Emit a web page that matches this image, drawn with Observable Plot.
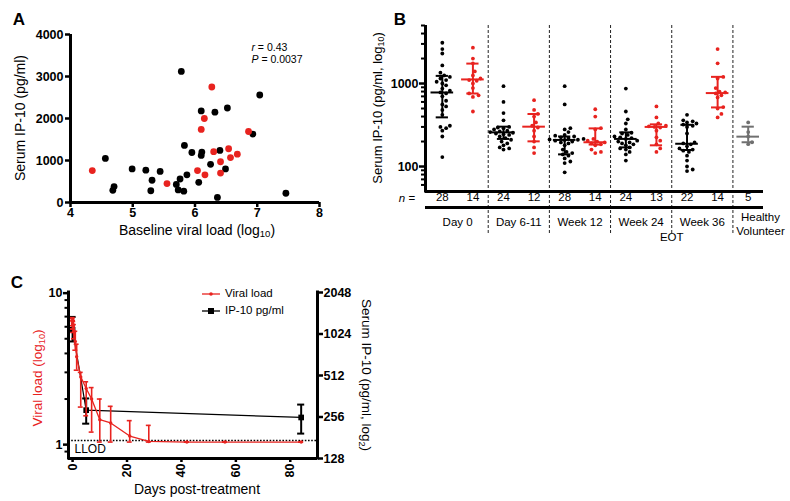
<!DOCTYPE html>
<html><head><meta charset="utf-8">
<script src="https://cdn.jsdelivr.net/npm/d3@7"></script>
<script src="https://cdn.jsdelivr.net/npm/@observablehq/plot@0.6"></script>
<style>
body{margin:0;background:#fff;font-family:"Liberation Sans",Arial,sans-serif;}
#root{position:relative;width:790px;height:501px;overflow:hidden;background:#fff;}
#root svg{position:absolute;}
sub{font-size:68%;vertical-align:-0.25em;line-height:0;}
</style></head><body><div id="root"></div>
<script>
// ---------- Panel A data ----------
const aBlackX = [4.56,4.70,4.68,4.99,5.21,5.31,5.29,5.44,5.70,5.76,5.73,5.82,5.87,5.83,5.78,5.95,6.06,6.10,6.11,6.10,6.32,6.52,6.25,6.40,6.49,6.36,6.93,7.04,7.46];
const aBlackY = [1050,380,290,800,770,530,280,740,430,560,300,270,660,1360,3120,1190,480,1120,1200,2180,2150,2250,910,1240,800,120,1630,2560,220];
const aRedX = [4.35,5.55,6.04,6.16,6.10,6.15,6.27,6.30,6.41,6.41,6.54,6.57,6.68,6.86];
const aRedY = [760,450,760,660,1740,2000,2750,1210,970,700,1280,1070,1150,1690];
const aXTicks = [4,5,6,7,8];
const aYTicks = [0,1000,2000,3000,4000];

// ---------- Panel B data ----------
const bD0A  = [3100,2600,2300,1650,1350,1250,1200,1150,1100,1050,1000,950,870,820,780,760,700,620,560,530,480,420,310,300,290,270,230,130];
const bD0B  = [2700,2000,1750,1400,1250,1150,1100,1080,1000,880,760,720,690,460];
const bD6A  = [930,600,440,360,300,295,290,280,270,265,260,255,250,245,240,230,220,210,200,190,180,170,165,160];
const bD6B  = [630,480,430,400,340,310,295,270,230,200,170,145];
const bW12A = [930,560,290,280,260,240,235,230,225,220,215,212,210,208,205,200,195,190,180,160,150,145,140,135,125,115,110,85];
const bW12B = [490,400,290,280,215,205,200,195,190,185,180,160,150,145];
const bW24A = [870,460,370,330,280,255,250,240,230,225,220,215,205,200,195,190,185,180,170,165,160,150,140,118];
const bW24B = [530,390,330,310,305,300,295,270,225,205,185,165,150];
const bW36A = [420,360,350,340,330,320,310,300,250,195,190,185,175,165,160,155,150,135,118,100,92,88];
const bW36B = [2600,1750,1200,1150,880,800,780,760,720,680,520,500,430,390];
const bHV   = [340,260,230,196,186];
const bMedian = [780,1120,258,302,209,196,215,300,188,767,229];
const bLow    = [391,758,215,201,140,184,170,180,158,515,196];
const bHigh   = [1236,1738,302,429,230,288,258,322,318,1203,302];
const bCounts = [28,14,24,12,28,14,24,13,22,14,5];
const bGroups = ["Day 0","Day 6-11","Week 12","Week 24","Week 36"];
const bGroupX = [0.5,2.5,4.5,6.5,8.5];
const bLastGroup = "Healthy\nVolunteer";
const bLastGroupX = 10.4;
const bSeparators = [1.5,3.5,5.5,7.5,9.5];
const bYTicks = [100,1000];
const bYMinor = [60,70,80,90,200,300,400,500,600,700,800,900,2000,3000,4000,5000];

// ---------- Panel C data ----------
const cDays    = [0,0.08,0.17,0.25,0.5,1,1.5,3,5,7,10,14,21,28,42,56,84];
const cViral   = [6.3,6.6,6.2,6.0,5.6,4.8,3.8,2.8,2.35,2.0,1.46,1.39,1.14,1.05,1.04,1.04,1.04];
const cViralLo = [5.8,6.1,5.8,5.5,5.0,4.2,3.1,1.77,1.55,1.21,1.04,1.04,1.04,1.04,1.04,1.04,1.04];
const cViralHi = [6.8,6.9,6.6,6.5,6.2,5.6,4.6,3.0,2.6,2.38,2.0,1.79,1.44,1.34,1.04,1.04,1.04];
const cIpDays = [0,5,84];
const cIp     = [1100,287,254];
const cIpLo   = [904,229,194];
const cIpHi   = [1362,349,315];
const cLLOD = 1.065;
const cXTicks = [0,20,40,60,80];
const cYTicks = [1,10];
const cYMinor = [0.9,2,3,4,5,6,7,8,9];
const cY2Ticks = [128,256,512,1024,2048];

// ---------- helpers ----------
const RED = "#e8231f", GREY = "#707070";
const FONT = "Liberation Sans, Arial, sans-serif";
const root = document.getElementById("root");
function put(svg, left, top){ svg.style.left = left+"px"; svg.style.top = top+"px"; root.appendChild(svg); }
function label(html, cx, cy, o = {}){
  const d = document.createElement("div");
  d.innerHTML = html;
  d.style.cssText = `position:absolute;left:${cx}px;top:${cy}px;transform:translate(-50%,-50%) rotate(${o.rot||0}deg);font-size:${o.size||14}px;white-space:nowrap;color:${o.color||"#000"};font-weight:${o.bold?"bold":"normal"};line-height:1.15;text-align:${o.align||"center"};`;
  root.appendChild(d);
}
const baseStyle = {fontFamily: FONT, fontSize: "12px", background: "transparent", overflow: "visible", color: "black"};

// ---------- Panel A ----------
const aBlack = aBlackX.map((x,i)=>({x, y:aBlackY[i]}));
const aRed = aRedX.map((x,i)=>({x, y:aRedY[i]}));
const aX = [aXTicks[0], aXTicks[aXTicks.length-1]], aY = [aYTicks[0], aYTicks[aYTicks.length-1]];
put(Plot.plot({
  width:340, height:245, marginLeft:70, marginRight:21, marginTop:34, marginBottom:43,
  style: baseStyle,
  x:{domain:aX}, y:{domain:aY},
  marks:[
    Plot.axisY({ticks:aYTicks, tickSize:5, strokeWidth:2.5, tickPadding:2, fontSize:12.5, fontWeight:"bold", tickFormat:d=>String(d), label:null}),
    Plot.axisX({ticks:aXTicks, tickSize:5, strokeWidth:2.5, tickPadding:1, fontSize:12.5, fontWeight:"bold", tickFormat:d=>String(d), label:null}),
    Plot.ruleX([aX[0]], {strokeWidth:3, insetBottom:-1.5}),
    Plot.ruleY([aY[0]], {strokeWidth:3}),
    Plot.dot(aBlack, {x:"x", y:"y", r:3.4, fill:"black"}),
    Plot.dot(aRed, {x:"x", y:"y", r:3.4, fill:RED})
  ]
}), 0, 0);
label("A", 19, 20, {size:17, bold:true});
label("Serum IP-10 (pg/ml)", 20, 118, {rot:-90, size:14});
label("Baseline viral load (log<sub>10</sub>)", 197, 230, {size:14});
label("<i>r</i> = 0.43<br><i>P</i> = 0.0037", 253+24, 53, {size:10.5, align:"left"});

// ---------- Panel B ----------
const bSeries = [bD0A,bD0B,bD6A,bD6B,bW12A,bW12B,bW24A,bW24B,bW36A,bW36B,bHV];
const bX = [-0.55, 10.5], bY = [50, 5000];
const bW = 410, bML = 45, bMR = 27, bMT = 25, bMB = 59, bH = 250;
const pxPerUnit = (bW - bML - bMR) / (bX[1]-bX[0]);
const pxPerDecade = (bH - bMT - bMB) / Math.log10(bY[1]/bY[0]);
function swarm(vals, center, r){
  const order = vals.map((v,i)=>i).sort((a,b)=>vals[a]-vals[b]);
  const placed = [], out = new Array(vals.length);
  for (const i of order){
    const y = pxPerDecade*Math.log10(vals[i]);
    let off = 0;
    for (let s=0; s<200; s++){
      off = s===0 ? 0 : (s%2 ? 1 : -1)*Math.ceil(s/2)*r*0.9;
      if (placed.every(p => Math.hypot(p.x-off, p.y-y) >= 2*r)) break;
    }
    placed.push({x:off, y});
    out[i] = center + off/pxPerUnit;
  }
  return out;
}
const colorOf = i => i===10 ? GREY : (i%2 ? RED : "black");
const bPts = [];
bSeries.forEach((vals,i)=>{ const xs = swarm(vals, i, 2.1); vals.forEach((v,j)=>bPts.push({x:xs[j], y:v, c:colorOf(i)})); });
const bStats = bMedian.map((m,i)=>({x:i, m, lo:bLow[i], hi:bHigh[i], c:colorOf(i)}));
put(Plot.plot({
  width:bW, height:bH, marginLeft:bML, marginRight:bMR, marginTop:bMT, marginBottom:bMB,
  style: baseStyle,
  x:{domain:bX, axis:null}, y:{type:"log", domain:bY},
  color:{type:"identity"},
  marks:[
    Plot.ruleX(bSeparators, {strokeDasharray:"3,2", strokeWidth:1, stroke:"#222", insetBottom:-44}),
    Plot.ruleY([bY[0]], {strokeWidth:3}),
    Plot.ruleY([bY[0]], {strokeWidth:3, dy:16}),
    Plot.ruleX([bX[0]], {strokeWidth:3, insetBottom:-1.5}),
    Plot.axisY({ticks:bYTicks, tickSize:6, strokeWidth:2.5, tickPadding:1, fontSize:12.5, fontWeight:"bold", tickFormat:d=>String(d), label:null}),
    Plot.axisY({ticks:bYMinor, tickSize:4, strokeWidth:2, tickFormat:()=>"", label:null}),
    Plot.dot(bPts, {x:"x", y:"y", r:1.9, fill:"c"}),
    Plot.ruleX(bStats, {x:"x", y1:"lo", y2:"hi", stroke:"c", strokeWidth:2}),
    Plot.ruleY(bStats, {y:"m", x1:d=>d.x-0.37, x2:d=>d.x+0.37, stroke:"c", strokeWidth:2}),
    Plot.ruleY(bStats, {y:"lo", x1:d=>d.x-0.2, x2:d=>d.x+0.2, stroke:"c", strokeWidth:2}),
    Plot.ruleY(bStats, {y:"hi", x1:d=>d.x-0.2, x2:d=>d.x+0.2, stroke:"c", strokeWidth:2}),
    Plot.text(bCounts, {x:(d,i)=>i, text:d=>String(d), frameAnchor:"bottom", dy:9, fontSize:11.5}),
    Plot.text(bGroups, {x:(d,i)=>bGroupX[i], text:d=>d, frameAnchor:"bottom", dy:34, fontSize:11.5}),
    Plot.text([bLastGroup], {x:[bLastGroupX], text:d=>d, frameAnchor:"bottom", dy:43, fontSize:11.5, lineHeight:1.2}),
    Plot.text(["EOT"], {x:[bSeparators[3]], text:d=>d, frameAnchor:"bottom", dy:49, fontSize:11.5})
  ]
}), 380, 0);
label("B", 400, 20, {size:17, bold:true});
label("Serum IP-10 (pg/ml, log<sub>10</sub>)", 378, 108, {rot:-90, size:13});
label("<i>n</i> =", 407, 199, {size:11.5});

// ---------- Panel C ----------
const cX = [-1.5, 90], cY = [0.81, 10.1], cY2 = [cY2Ticks[0], cY2Ticks[cY2Ticks.length-1]];
const cRed = cDays.map((d,i)=>({day:d, v:cViral[i], lo:cViralLo[i], hi:cViralHi[i]}));
const cBlk = cIpDays.map((d,i)=>({day:d, v:cIp[i], lo:cIpLo[i], hi:cIpHi[i]}));
const cDims = {width:400, height:231, marginLeft:68, marginRight:83, marginTop:22, marginBottom:43};
// right axis + IP-10 (below)
put(Plot.plot({
  ...cDims, style: baseStyle,
  x:{domain:cX, axis:null}, y:{type:"log", base:2, domain:cY2},
  marks:[
    Plot.ruleX([cX[1]], {strokeWidth:3, insetBottom:-1.5, insetTop:-1.5}),
    Plot.axisY({anchor:"right", ticks:cY2Ticks, tickSize:5, strokeWidth:2.5, tickPadding:1, fontSize:12.5, fontWeight:"bold", tickFormat:d=>String(d), label:null}),
    Plot.line(cBlk, {x:"day", y:"v", stroke:"black", strokeWidth:1.2}),
    Plot.ruleX(cBlk, {x:"day", y1:"lo", y2:"hi", stroke:"black", strokeWidth:2}),
    Plot.ruleY(cBlk, {y:"lo", x1:d=>d.day-1.3, x2:d=>d.day+1.3, stroke:"black", strokeWidth:2}),
    Plot.ruleY(cBlk, {y:"hi", x1:d=>d.day-1.3, x2:d=>d.day+1.3, stroke:"black", strokeWidth:2}),
    Plot.dot(cBlk, {x:"day", y:"v", symbol:"square", r:3.2, fill:"black"})
  ]
}), 0, 270);
// left axis + viral load (above)
put(Plot.plot({
  ...cDims, style: baseStyle,
  x:{domain:cX}, y:{type:"log", domain:cY},
  marks:[
    Plot.ruleY([cLLOD], {strokeDasharray:"1.6,1.6", strokeWidth:1.6}),
    Plot.text(["LLOD"], {y:[cLLOD], text:d=>d, frameAnchor:"left", textAnchor:"start", dx:6, dy:9, fontSize:12}),
    Plot.line(cRed, {x:"day", y:"v", stroke:RED, strokeWidth:1.3}),
    Plot.ruleX(cRed, {x:"day", y1:"lo", y2:"hi", stroke:RED, strokeWidth:1.6}),
    Plot.ruleY(cRed, {y:"lo", x1:d=>d.day-0.9, x2:d=>d.day+0.9, stroke:RED, strokeWidth:1.6}),
    Plot.ruleY(cRed, {y:"hi", x1:d=>d.day-0.9, x2:d=>d.day+0.9, stroke:RED, strokeWidth:1.6}),
    Plot.dot(cRed, {x:"day", y:"v", r:1.7, fill:RED}),
    Plot.ruleX([cX[0]], {strokeWidth:3, insetBottom:-1.5, insetTop:-1.5}),
    Plot.ruleY([cY[0]], {strokeWidth:3}),
    Plot.axisY({ticks:cYTicks, tickSize:5, strokeWidth:2.5, tickPadding:1, fontSize:12.5, fontWeight:"bold", tickFormat:d=>String(d), label:null}),
    Plot.axisY({ticks:cYMinor, tickSize:3.5, strokeWidth:2, tickFormat:()=>"", label:null}),
    Plot.axisX({ticks:cXTicks, tickSize:4, strokeWidth:2.5, tickPadding:1, tickRotate:-90, fontSize:12.5, fontWeight:"bold", tickFormat:d=>String(d), label:null})
  ]
}), 0, 270);
label("C", 17, 283, {size:17, bold:true});
label("Viral load (log<sub>10</sub>)", 38, 378, {rot:-90, size:13.5, color:RED});
label("Serum IP-10 (pg/ml, log<sub>2</sub>)", 366, 375, {rot:90, size:13.5});
label("Days post-treatment", 197, 489, {size:14});
// legend
const leg = document.createElement("div");
leg.style.cssText = "position:absolute;left:200px;top:286px;font-size:11.5px;line-height:1;";
leg.innerHTML = `<svg width="24" height="34" style="position:absolute;left:0;top:0;overflow:visible">
<line x1="2" x2="20" y1="8" y2="8" stroke="${RED}" stroke-width="1.3"/><circle cx="11" cy="8" r="1.8" fill="${RED}"/>
<line x1="2" x2="20" y1="25" y2="25" stroke="black" stroke-width="1.3"/><rect x="8" y="22" width="6" height="6" fill="black"/></svg>
<div style="position:absolute;left:25px;top:2px;white-space:nowrap">Viral load</div>
<div style="position:absolute;left:25px;top:19px;white-space:nowrap">IP-10 pg/ml</div>`;
root.appendChild(leg);
</script></body></html>
